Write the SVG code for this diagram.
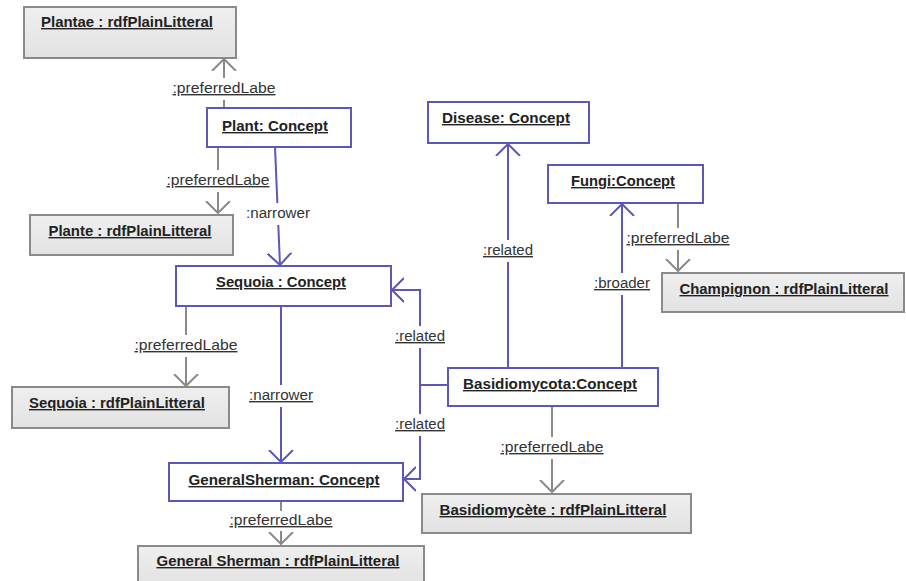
<svg xmlns="http://www.w3.org/2000/svg" width="906" height="581" viewBox="0 0 906 581">
<style>
.concept rect{fill:#ffffff;stroke:#5c58b8;stroke-width:2}
.literal rect{fill:url(#lg);stroke:#8a8a8a;stroke-width:2}
.nt{font-family:"Liberation Sans",Arial,sans-serif;font-size:14px;font-weight:bold;fill:#222;text-decoration:underline;text-anchor:middle}
.lb{font-family:"Liberation Sans",Arial,sans-serif;font-size:14px;fill:#333;text-anchor:middle}
.u{text-decoration:underline}
.gl{fill:none;stroke:#8a8a8a;stroke-width:2;marker-end:url(#ag)}
.pl{fill:none;stroke:#5c58b8;stroke-width:2;marker-end:url(#ap)}
.bg{fill:#ffffff}
</style>
<defs>
<linearGradient id="lg" x1="0" y1="0" x2="0" y2="1"><stop offset="0" stop-color="#efefef"/><stop offset="1" stop-color="#e2e2e2"/></linearGradient>
<marker id="ag" viewBox="0 0 13 26" refX="12" refY="13" markerWidth="13" markerHeight="26" markerUnits="userSpaceOnUse" orient="auto"><path d="M0,1 L12,13 L0,25" fill="none" stroke="#8a8a8a" stroke-width="2"/></marker>
<marker id="ap" viewBox="0 0 13 26" refX="12" refY="13" markerWidth="13" markerHeight="26" markerUnits="userSpaceOnUse" orient="auto"><path d="M0,1 L12,13 L0,25" fill="none" stroke="#5c58b8" stroke-width="2"/></marker>
</defs>
<rect width="906" height="581" fill="#ffffff"/>
<g id="connectors">
<path class="gl" d="M224,108 V59"/>
<rect class="bg" x="172" y="78" width="104" height="22"/>
<text class="lb u" x="224" y="93" textLength="103" lengthAdjust="spacingAndGlyphs">:preferredLabe</text>
<path class="gl" d="M218,147 V213"/>
<rect class="bg" x="166" y="170" width="104" height="22"/>
<text class="lb u" x="218" y="185" textLength="103" lengthAdjust="spacingAndGlyphs">:preferredLabe</text>
<path class="pl" d="M275,147 L280,265"/>
<rect class="bg" x="245" y="203" width="66" height="22"/>
<text class="lb" x="278" y="218" textLength="64" lengthAdjust="spacingAndGlyphs">:narrower</text>
<path class="gl" d="M186,306 V386"/>
<rect class="bg" x="134" y="335" width="104" height="22"/>
<text class="lb u" x="186" y="350" textLength="103" lengthAdjust="spacingAndGlyphs">:preferredLabe</text>
<path class="pl" d="M281,306 V462"/>
<rect class="bg" x="248" y="385" width="66" height="22"/>
<text class="lb u" x="281" y="400" textLength="64" lengthAdjust="spacingAndGlyphs">:narrower</text>
<path class="pl" d="M448,385 H420 V290 H392"/>
<rect class="bg" x="394" y="326" width="52" height="22"/>
<text class="lb u" x="420" y="341" textLength="50" lengthAdjust="spacingAndGlyphs">:related</text>
<path class="pl" d="M420,385 V479 H404"/>
<rect class="bg" x="394" y="414" width="52" height="22"/>
<text class="lb u" x="420" y="429" textLength="50" lengthAdjust="spacingAndGlyphs">:related</text>
<path class="pl" d="M508,368 V144"/>
<rect class="bg" x="482" y="240" width="52" height="22"/>
<text class="lb u" x="508" y="255" textLength="50" lengthAdjust="spacingAndGlyphs">:related</text>
<path class="pl" d="M622,368 V204"/>
<rect class="bg" x="593" y="273" width="58" height="22"/>
<text class="lb u" x="622" y="288" textLength="56" lengthAdjust="spacingAndGlyphs">:broader</text>
<path class="gl" d="M678,203 V271"/>
<rect class="bg" x="626" y="228" width="104" height="22"/>
<text class="lb u" x="678" y="243" textLength="103" lengthAdjust="spacingAndGlyphs">:preferredLabe</text>
<path class="gl" d="M552,406 V492"/>
<rect class="bg" x="500" y="437" width="104" height="22"/>
<text class="lb u" x="552" y="452" textLength="103" lengthAdjust="spacingAndGlyphs">:preferredLabe</text>
<path class="gl" d="M281,501 V544"/>
<rect class="bg" x="229" y="511" width="104" height="20"/>
<text class="lb u" x="281" y="525" textLength="103" lengthAdjust="spacingAndGlyphs">:preferredLabe</text>
</g>
<g id="plantae" class="literal"><rect x="24" y="7" width="212" height="51"/><text class="nt" x="127" y="27" textLength="172" lengthAdjust="spacingAndGlyphs">Plantae : rdfPlainLitteral</text></g>
<g id="plant" class="concept"><rect x="207" y="108" width="144" height="39"/><text class="nt" x="275" y="131" textLength="106" lengthAdjust="spacingAndGlyphs">Plant: Concept</text></g>
<g id="plante" class="literal"><rect x="30" y="215" width="203" height="40"/><text class="nt" x="130" y="236" textLength="163" lengthAdjust="spacingAndGlyphs">Plante : rdfPlainLitteral</text></g>
<g id="sequoia" class="concept"><rect x="176" y="266" width="215" height="40"/><text class="nt" x="281" y="287" textLength="130" lengthAdjust="spacingAndGlyphs">Sequoia : Concept</text></g>
<g id="sequoia-literal" class="literal"><rect x="12" y="387" width="217" height="41"/><text class="nt" x="117" y="408" textLength="176" lengthAdjust="spacingAndGlyphs">Sequoia : rdfPlainLitteral</text></g>
<g id="generalsherman" class="concept"><rect x="169" y="463" width="234" height="38"/><text class="nt" x="284" y="485" textLength="191" lengthAdjust="spacingAndGlyphs">GeneralSherman: Concept</text></g>
<g id="generalsherman-literal" class="literal"><rect x="138" y="546" width="286" height="40"/><text class="nt" x="278" y="566" textLength="243" lengthAdjust="spacingAndGlyphs">General Sherman : rdfPlainLitteral</text></g>
<g id="disease" class="concept"><rect x="428" y="102" width="161" height="41"/><text class="nt" x="506" y="123" textLength="128" lengthAdjust="spacingAndGlyphs">Disease: Concept</text></g>
<g id="fungi" class="concept"><rect x="548" y="165" width="155" height="38"/><text class="nt" x="623" y="186" textLength="104" lengthAdjust="spacingAndGlyphs">Fungi:Concept</text></g>
<g id="champignon" class="literal"><rect x="662" y="273" width="242" height="39"/><text class="nt" x="784" y="294" textLength="209" lengthAdjust="spacingAndGlyphs">Champignon : rdfPlainLitteral</text></g>
<g id="basidiomycota" class="concept"><rect x="448" y="368" width="210" height="38"/><text class="nt" x="550" y="389" textLength="174" lengthAdjust="spacingAndGlyphs">Basidiomycota:Concept</text></g>
<g id="basidiomycete" class="literal"><rect x="422" y="494" width="269" height="39"/><text class="nt" x="553" y="515" textLength="227" lengthAdjust="spacingAndGlyphs">Basidiomycète : rdfPlainLitteral</text></g>
</svg>
